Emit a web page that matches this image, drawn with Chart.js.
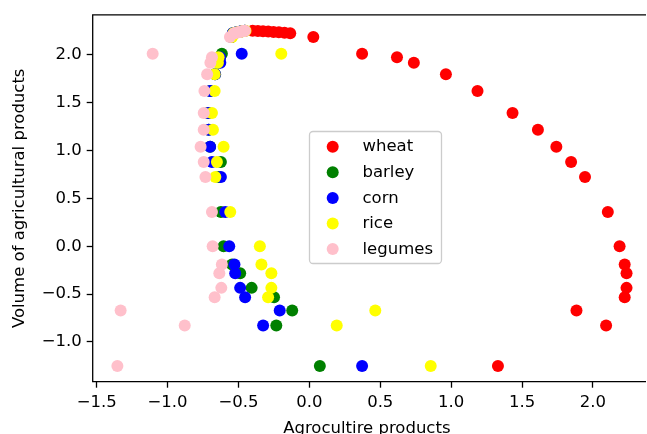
<!DOCTYPE html>
<html><head><meta charset="utf-8">
<script src="https://cdn.jsdelivr.net/npm/chart.js@4/dist/chart.umd.min.js"></script>
<style>html,body{margin:0;padding:0;background:#fff;}canvas{display:block;}</style>
</head><body>
<canvas id="c" width="647" height="434"></canvas>
<script>
const seriesNames = ['wheat', 'barley', 'corn', 'rice', 'legumes'];
const seriesColors = ['#ff0000', '#008000', '#0000ff', '#ffff00', '#ffc0cb'];

// shared y values (Volume of agricultural products)
const volume = [2.25, 2.248, 2.245, 2.242, 2.238, 2.234, 2.23, 2.225, 2.184, 2.011, 1.973, 1.917, 1.797, 1.620, 1.392, 1.216, 1.039, 0.879, 0.724, 0.357, 0.0, -0.190, -0.283, -0.435, -0.533, -0.671, -0.829, -1.252];

// x values per series (Agrocultire products)
const wheat = [-0.40, -0.363, -0.327, -0.29, -0.253, -0.215, -0.175, -0.135, 0.028, 0.372, 0.618, 0.737, 0.963, 1.186, 1.433, 1.612, 1.742, 1.846, 1.944, 2.105, 2.188, 2.224, 2.237, 2.237, 2.224, 1.884, 2.093, 1.33];
const barley = [-0.455, -0.465, -0.475, -0.485, -0.495, -0.51, -0.525, -0.54, -0.55, -0.617, -0.63, -0.64, -0.665, -0.70, -0.715, -0.71, -0.70, -0.624, -0.64, -0.624, -0.605, -0.545, -0.488, -0.407, -0.249, -0.121, -0.233, 0.074];
const corn = [-0.455, -0.465, -0.475, -0.485, -0.495, -0.51, -0.525, -0.54, -0.55, -0.477, -0.63, -0.628, -0.665, -0.70, -0.712, -0.71, -0.70, -0.687, -0.624, -0.593, -0.565, -0.528, -0.523, -0.488, -0.453, -0.209, -0.326, 0.372];
const rice = [-0.45, -0.46, -0.47, -0.48, -0.49, -0.505, -0.52, -0.535, -0.545, -0.198, -0.64, -0.645, -0.668, -0.668, -0.687, -0.68, -0.605, -0.652, -0.663, -0.558, -0.349, -0.338, -0.268, -0.268, -0.291, 0.465, 0.193, 0.856];
const legumes = [-0.454, -0.46, -0.47, -0.48, -0.49, -0.50, -0.515, -0.53, -0.56, -1.105, -0.687, -0.698, -0.721, -0.74, -0.745, -0.745, -0.767, -0.745, -0.733, -0.687, -0.682, -0.617, -0.635, -0.621, -0.668, -1.331, -0.879, -1.354];

const xTicks = [-1.5, -1.0, -0.5, 0.0, 0.5, 1.0, 1.5, 2.0];
const yTicks = [-1.0, -0.5, 0.0, 0.5, 1.0, 1.5, 2.0];

const seriesX = [wheat, barley, corn, rice, legumes];
const FONT = 'DejaVu Sans';
const FS = 16.5;
const fmt = v => (v < 0 ? '\u2212' : '') + Math.abs(v).toFixed(1);

const framePlugin = {
  id: 'frame',
  afterDatasetsDraw(chart) {
    const {ctx, chartArea: {left, top, right, bottom}} = chart;
    ctx.save();
    ctx.strokeStyle = '#000';
    ctx.lineWidth = 1.3;
    ctx.beginPath();
    ctx.moveTo(right + 5, top);
    ctx.lineTo(left, top);
    ctx.lineTo(left, bottom);
    ctx.lineTo(right + 5, bottom);
    ctx.stroke();
    ctx.restore();
  }
};

const legendPlugin = {
  id: 'boxLegend',
  afterDraw(chart) {
    const ctx = chart.ctx;
    const bx = 309.5, by = 131.5, bw = 132, bh = 132, r = 3.5;
    ctx.save();
    ctx.beginPath();
    ctx.moveTo(bx + r, by);
    ctx.lineTo(bx + bw - r, by);
    ctx.arcTo(bx + bw, by, bx + bw, by + r, r);
    ctx.lineTo(bx + bw, by + bh - r);
    ctx.arcTo(bx + bw, by + bh, bx + bw - r, by + bh, r);
    ctx.lineTo(bx + r, by + bh);
    ctx.arcTo(bx, by + bh, bx, by + bh - r, r);
    ctx.lineTo(bx, by + r);
    ctx.arcTo(bx, by, bx + r, by, r);
    ctx.closePath();
    ctx.fillStyle = 'rgba(255,255,255,0.8)';
    ctx.fill();
    ctx.strokeStyle = '#cccccc';
    ctx.lineWidth = 1.3;
    ctx.stroke();
    ctx.font = FS + 'px "' + FONT + '"';
    ctx.textBaseline = 'middle';
    ctx.textAlign = 'left';
    chart.data.datasets.forEach((ds, i) => {
      const y = 146.7 + i * 25.6;
      ctx.beginPath();
      ctx.arc(332.7, y, 6, 0, Math.PI * 2);
      ctx.fillStyle = ds.backgroundColor;
      ctx.fill();
      ctx.fillStyle = '#000';
      ctx.fillText(ds.label, 362.5, y + 0.5);
    });
    ctx.restore();
  }
};

new Chart(document.getElementById('c'), {
  type: 'scatter',
  data: {
    datasets: seriesNames.map((n, i) => ({
      label: n,
      data: seriesX[i].map((x, j) => ({x: x, y: volume[j]})),
      backgroundColor: seriesColors[i],
      borderColor: seriesColors[i],
      borderWidth: 0,
      pointRadius: 6,
      pointHoverRadius: 6,
      order: seriesNames.length - i
    }))
  },
  options: {
    responsive: false,
    animation: false,
    devicePixelRatio: 1,
    layout: {padding: {left: 0, top: 12.7, right: 0, bottom: 0}},
    plugins: {legend: {display: false}, tooltip: {enabled: false}},
    scales: {
      x: {
        type: 'linear', min: -1.528, max: 2.339,
        afterBuildTicks: s => { s.ticks = xTicks.map(v => ({value: v})); },
        afterFit: s => { s.height = 52.3; },
        ticks: {callback: v => fmt(v), color: '#000', font: {family: FONT, size: FS}, padding: 5, maxRotation: 0, autoSkip: false},
        grid: {drawOnChartArea: false, drawTicks: true, tickLength: 6, tickWidth: 1.3, tickColor: '#000'},
        border: {display: false},
        title: {display: true, text: 'Agrocultire products', color: '#000', font: {family: FONT, size: FS, lineHeight: 1}, padding: {top: 0, bottom: -2.5}}
      },
      y: {
        type: 'linear', min: -1.415, max: 2.416,
        afterBuildTicks: s => { s.ticks = yTicks.map(v => ({value: v})); },
        afterFit: s => { s.width = 92.7; },
        ticks: {callback: v => fmt(v), color: '#000', font: {family: FONT, size: FS}, padding: 5, autoSkip: false},
        grid: {drawOnChartArea: false, drawTicks: true, tickLength: 6, tickWidth: 1.3, tickColor: '#000'},
        border: {display: false},
        title: {display: true, text: 'Volume of agricultural products', color: '#000', font: {family: FONT, size: FS, lineHeight: 1}, padding: {top: 11, bottom: 0}}
      }
    }
  },
  plugins: [framePlugin, legendPlugin]
});
</script>
</body></html>
